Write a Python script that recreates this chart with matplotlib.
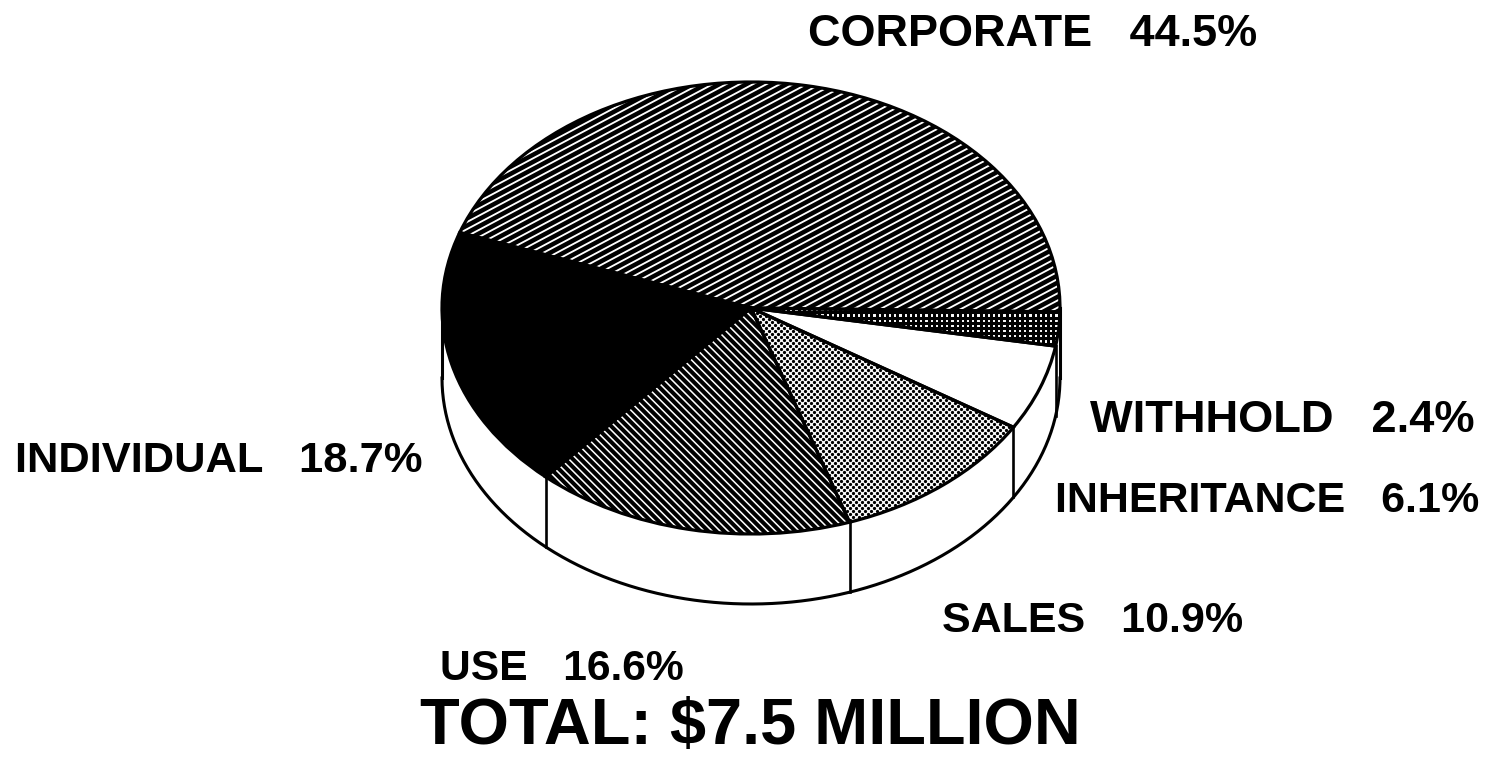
import matplotlib
matplotlib.use("Agg")
import matplotlib.pyplot as plt
import numpy as np
from matplotlib.collections import LineCollection
from matplotlib.patches import PathPatch

names = ["CORPORATE", "INDIVIDUAL", "USE", "SALES", "INHERITANCE", "WITHHOLD"]
shares = [44.5, 18.7, 16.6, 10.9, 6.1, 2.4]
total_label = "TOTAL: $7.5 MILLION"

W, H = 1490, 757
CX, CY, RX, RY = 751, 308, 309, 226
DEPTH = 70 / RY
START = -1.0

plt.rcParams["font.family"] = ["Liberation Sans", "DejaVu Sans"]


def px(x, y):
    return (x - CX) / RX, (CY - y) / RY


fig = plt.figure(figsize=(W / 100, H / 100), dpi=100, facecolor="white")
ax = fig.add_axes([0, 0, 1, 1])

wedges, _ = ax.pie(
    shares, startangle=START, counterclock=True, radius=1,
    colors=["white", "black", "white", "white", "white", "white"],
    wedgeprops={"edgecolor": "none", "zorder": 2.4},
)
ax.set_aspect("auto")
ax.set_xlim(-CX / RX, (W - CX) / RX)
ax.set_ylim((CY - H) / RY, CY / RY)
ax.axis("off")

# side of the disc
fracs = np.cumsum(shares) / np.sum(shares)
edge_angles = np.radians(START) + 2 * np.pi * fracs
t = np.linspace(np.pi, 2 * np.pi, 300)
ax.fill_between(np.cos(t), np.sin(t) - DEPTH, np.sin(t), color="white", zorder=1)
ax.plot(np.cos(t), np.sin(t) - DEPTH, color="black", lw=2.2, zorder=2)
ax.plot([-1, -1], [0, -DEPTH], color="black", lw=2.2, zorder=2)
ax.plot([1, 1], [0, -DEPTH], color="black", lw=2.2, zorder=2)
for a in edge_angles[1:-1]:
    ax.plot([np.cos(a)] * 2, [np.sin(a), np.sin(a) - DEPTH], color="black", lw=1.9, zorder=2)


def fill_lines(wedge, angle, gap, lw):
    # parallel lines clipped to a wedge, worked out in pixels
    d = np.radians(angle)
    ux, uy = np.cos(d), np.sin(d)
    nx, ny = -uy, ux
    offs = np.arange(-1800, 1800, gap)
    segs = []
    for o in offs:
        x0, y0 = CX + nx * o - ux * 2000, CY + ny * o - uy * 2000
        x1, y1 = CX + nx * o + ux * 2000, CY + ny * o + uy * 2000
        segs.append([px(x0, y0), px(x1, y1)])
    lc = LineCollection(segs, colors="black", linewidths=lw, zorder=2.5)
    ax.add_collection(lc)
    lc.set_clip_path(wedge)


def fill_dots(wedge, gap, size):
    # staggered dot screen clipped to a wedge
    gx, gy = np.meshgrid(np.arange(700, 1100, gap), np.arange(280, 560, gap / 2))
    row = np.round((gy - 280) / (gap / 2)).astype(int)
    gx = gx + (row % 2) * gap / 2
    x, y = px(gx.ravel(), gy.ravel())
    dots = ax.scatter(x, y, s=size, c="black", linewidths=0, zorder=2.5)
    dots.set_clip_path(wedge)


fill_lines(wedges[0], -28, 6.3, 3.2)
fill_lines(wedges[2], 45, 5.6, 2.9)
fill_dots(wedges[3], 6, 5.5)
fill_lines(wedges[5], 0, 5.2, 2.2)
fill_lines(wedges[5], 90, 5.2, 2.2)
for w in wedges:
    ax.add_patch(PathPatch(w.get_path(), transform=w.get_transform(), fill=False,
                           edgecolor="black", lw=2.3, zorder=3))


def label(i, x, y, size):
    ax.text(x, H - y, f"{names[i]}   {shares[i]}%", transform=None, fontsize=size,
            fontweight="bold", ha="left", va="center", zorder=5)


label(0, 808, 35, 32.4)
label(1, 15, 461, 31.3)
label(2, 440, 669, 30.7)
label(3, 942, 621, 31)
label(4, 1055, 501, 31)
label(5, 1090, 421, 32.6)
ax.text(420, H - 727, total_label, transform=None, fontsize=46.7,
        fontweight="bold", ha="left", va="center", zorder=5)

fig.savefig("out.png", dpi=100, facecolor="white")
